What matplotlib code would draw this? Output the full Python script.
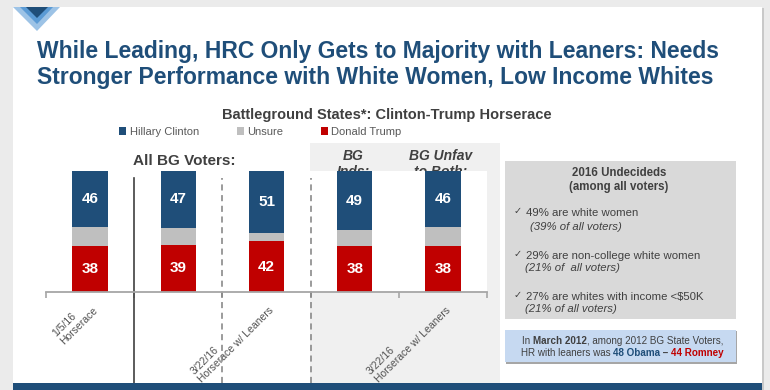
#!/usr/bin/python
# coding=utf-8

"""
Battleground states horserace slide: stacked bars plus side notes.
"""

import matplotlib
matplotlib.use("Agg")
import matplotlib.pyplot as plt
import numpy as np
from matplotlib.patches import Rectangle, Polygon
from matplotlib.text    import Annotation

plt.rcParams["font.family"] = ["Liberation Sans", "DejaVu Sans"]

# Data (percent).
clinton = [46, 47, 51, 49, 46]
unsure  = [16, 14,  7, 13, 16]
trump   = [38, 39, 42, 38, 38]

bar_labels    = ["1/5/16\nHorserace", "",
                 "3/22/16\nHorserace w/ Leaners", "",
                 "3/22/16\nHorserace w/ Leaners"]
series_names  = ["Hillary Clinton", "Unsure", "Donald Trump"]
group_headers = ["All BG Voters:", "BG\nInds:", "BG Unfav\nto Both:"]

title_lines = ["While Leading, HRC Only Gets to Majority with Leaners: Needs",
               "Stronger Performance with White Women, Low Income Whites"]
subtitle    = "Battleground States*: Clinton-Trump Horserace"

box_title = "2016 Undecideds\n(among all voters)"
box_items = [("49% are white women",              "(39% of all voters)"),
             ("29% are non-college white women",  "(21% of  all voters)"),
             ("27% are whites with income <$50K", "(21% of all voters)")]

BLUE  = "#1F4E79"
RED   = "#C00000"
GREY  = "#BFBFBF"
DARK  = "#404040"

W, H = 770, 390


def fx(x):
    return x / W


def fy(y):
    return 1 - y / H


def box(fig, x0, y0, x1, y1, color, z):
    fig.add_artist(Rectangle((fx(x0), fy(y1)), fx(x1) - fx(x0), fy(y0) - fy(y1),
                             transform = fig.transFigure, facecolor = color,
                             edgecolor = "none", zorder = z))


def chain(fig, x, y, pieces, size):
    # writes coloured / bold pieces one after another on one baseline
    txt, weight, color = pieces[0]
    prev = fig.text(fx(x), fy(y), txt, fontsize = size, fontweight = weight,
                    color = color, ha = "left", va = "baseline")
    for txt, weight, color in pieces[1:]:
        prev = fig.add_artist(Annotation(txt, xy = (1, 0), xycoords = prev,
                                         ha = "left", va = "bottom",
                                         fontsize = size, fontweight = weight,
                                         color = color))


def slide():

    fig = plt.figure(figsize = (7.7, 3.9), dpi = 100, facecolor = "#EBEBEB")

    # slide page, shadow and decorations
    box(fig, 14, 8, 764, 390, "#C9C9C9", -6)
    box(fig, 13, 7, 762, 390, "white", -5)
    box(fig, 13, 383, 762, 390, BLUE, 5)
    box(fig, 310, 143, 500, 383, "#F0F0F0", -4)
    for pts, col in [([(13, 7), (60, 7), (37, 31)], "#9DC3E6"),
                     ([(20, 7), (53, 7), (37, 24)], "#5B9BD5"),
                     ([(26, 7), (48, 7), (37, 18)], BLUE)]:
        fig.add_artist(Polygon([(fx(a), fy(b)) for a, b in pts],
                               transform = fig.transFigure, facecolor = col,
                               edgecolor = "none", zorder = 6))

    # title, shrunk until the first line spans the same width as on the slide
    t1 = fig.text(fx(37), fy(58), title_lines[0], fontsize = 17, fontweight = "bold",
                  color = BLUE, va = "baseline")
    t2 = fig.text(fx(37), fy(84), title_lines[1], fontsize = 17, fontweight = "bold",
                  color = BLUE, va = "baseline")
    renderer = fig.canvas.get_renderer()
    width    = t1.get_window_extent(renderer).width
    size     = 17 * 683 / width
    t1.set_fontsize(size)
    t2.set_fontsize(size)

    fig.text(fx(387), fy(119), subtitle, fontsize = 10.5, fontweight = "bold",
             color = DARK, ha = "center", va = "baseline")

    # chart
    ax = fig.add_axes([fx(46), fy(292), fx(487) - fx(46), fy(171) - fy(292)])
    x  = np.arange(len(clinton))
    t  = np.array(trump)
    u  = np.array(unsure)
    c  = np.array(clinton)

    b_t = ax.bar(x, t, width = 0.4, color = RED,  label = series_names[2])
    b_u = ax.bar(x, u, width = 0.4, bottom = t, color = GREY, label = series_names[1])
    b_c = ax.bar(x, c, width = 0.4, bottom = t + u, color = BLUE, label = series_names[0])
    for cont in (b_t, b_c):
        ax.bar_label(cont, label_type = "center", color = "white",
                     fontweight = "bold", fontsize = 11)

    ax.set_xlim(-0.5, len(clinton) - 0.5)
    ax.set_ylim(0, 100)
    ax.set_yticks([])
    for s in ("top", "left", "right"):
        ax.spines[s].set_visible(False)
    ax.spines["bottom"].set_color("#A6A6A6")
    ax.spines["bottom"].set_linewidth(1.3)

    ax.set_xticks(np.arange(-0.5, len(clinton)), minor = True)
    ax.tick_params(axis = "x", which = "minor", length = 4, color = "#A6A6A6", width = 1.2)
    ax.set_xticks(x - 0.06, bar_labels, rotation = 45, ha = "right", va = "top",
                  rotation_mode = "anchor", fontsize = 7.5, color = "#505050",
                  multialignment = "left", linespacing = 1.1)
    ax.tick_params(axis = "x", which = "major", length = 0, pad = 4)

    ax.axvline(0.5, ymin = -0.75, ymax = 0.94, color = "#404040", lw = 1.2, clip_on = False)
    for xv in (1.5, 2.5):
        ax.axvline(xv, ymin = -0.75, ymax = 0.94, color = "#808080", lw = 1.1,
                   ls = (0, (4, 3)), clip_on = False)

    handles = [b_c, b_u, b_t]
    fig.legend(handles, series_names, loc = "center left", ncol = 3,
               bbox_to_anchor = (fx(119), fy(132)), frameon = False,
               fontsize = 8, labelcolor = "#595959", handlelength = 0.65,
               handleheight = 0.65, handletextpad = 0.3, columnspacing = 3.4,
               borderpad = 0, borderaxespad = 0)

    fig.text(fx(133), fy(161), group_headers[0], fontsize = 11, fontweight = "bold",
             color = DARK, va = "center")
    fig.text(fx(353), fy(164), group_headers[1], fontsize = 10, fontweight = "bold",
             style = "italic", color = DARK, ha = "center", va = "center",
             linespacing = 1.15, zorder = -3)
    fig.text(fx(441), fy(164), group_headers[2], fontsize = 10, fontweight = "bold",
             style = "italic", color = DARK, ha = "center", va = "center",
             linespacing = 1.15, zorder = -3)

    # undecided panel
    box(fig, 505, 161, 736, 319, "#D9D9D9", -3)
    fig.text(fx(619), fy(180), box_title, fontsize = 8.3, fontweight = "bold",
             color = DARK, ha = "center", va = "center", linespacing = 1.3)
    rows = [(213, 227, 530), (256, 268, 525), (297, 309, 525)]
    for (main, sub), (y1, y2, xs) in zip(box_items, rows):
        fig.text(fx(514), fy(y1 - 2), "\u2713", fontsize = 7, color = DARK,
                 family = ["DejaVu Sans"], va = "center")
        fig.text(fx(526), fy(y1), main, fontsize = 8.2, color = DARK, va = "center")
        fig.text(fx(xs), fy(y2), sub, fontsize = 8.2, style = "italic",
                 color = DARK, va = "center")

    # 2012 comparison box
    box(fig, 506, 331, 737, 364, "#A6A6A6", -3)
    box(fig, 505, 330, 736, 362, "#C6D9F1", -2)
    line1 = [("In ", "normal", DARK), ("March 2012", "bold", DARK),
             (", among 2012 BG State Voters,", "normal", DARK)]
    line2 = [("HR with leaners was ", "normal", DARK), ("48 Obama", "bold", BLUE),
             (" \u2013 ", "bold", DARK), ("44 Romney", "bold", RED)]
    chain(fig, 522, 344, line1, 7.1)
    chain(fig, 521, 356, line2, 7.1)

    fig.savefig("out.png", dpi = 100, facecolor = fig.get_facecolor())


if __name__ == "__main__":
    slide()
